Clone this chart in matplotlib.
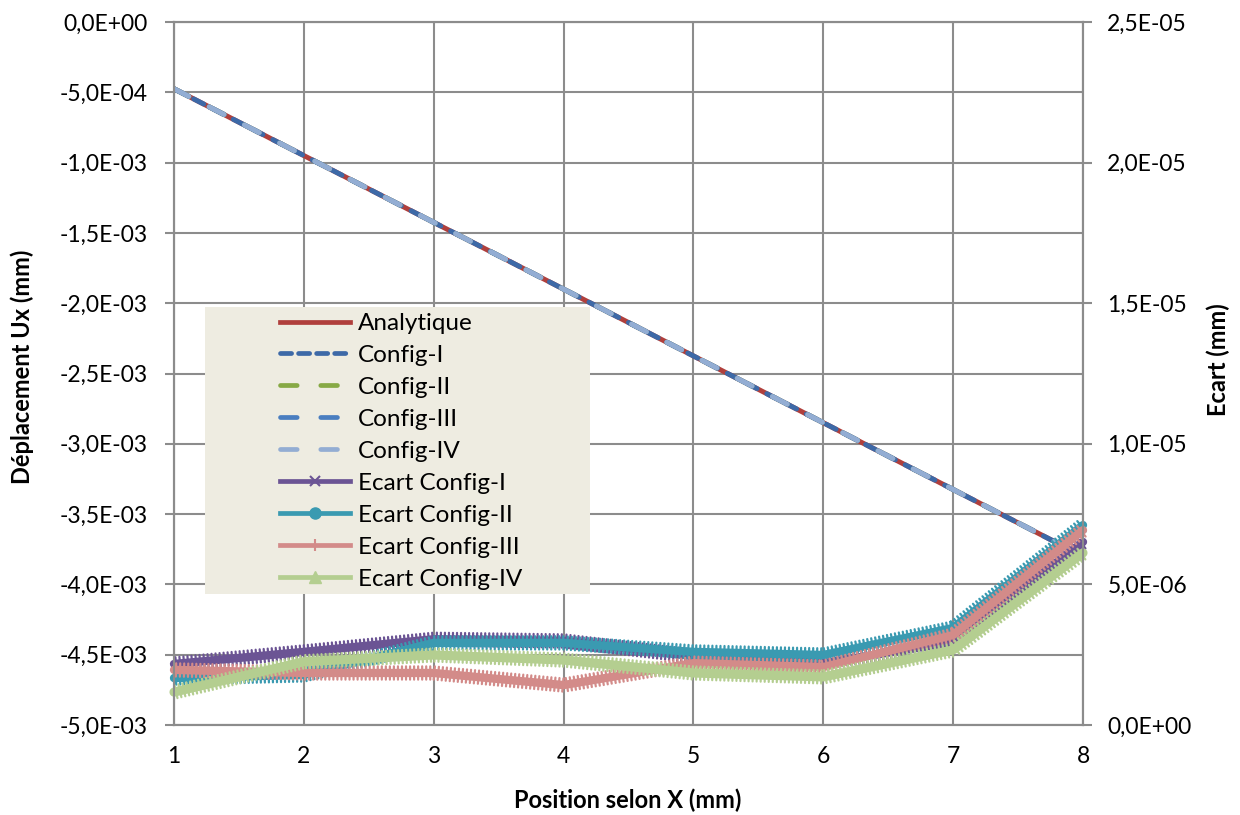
import matplotlib
matplotlib.use("Agg")
import matplotlib.pyplot as plt
import matplotlib.patheffects as pe
from matplotlib.lines import Line2D
from matplotlib.patches import Rectangle
from matplotlib.ticker import FixedLocator, FuncFormatter
import numpy as np

plt.rcParams['font.family'] = ['Lato', 'DejaVu Sans']
plt.rcParams['lines.scale_dashes'] = False

# ---------------- data ----------------
x = [1, 2, 3, 4, 5, 6, 7, 8]
analytique = [-4.75e-4, -9.5e-4, -1.425e-3, -1.9e-3, -2.375e-3, -2.85e-3, -3.325e-3, -3.8e-3]
config_I = [-4.75e-4, -9.5e-4, -1.425e-3, -1.9e-3, -2.375e-3, -2.85e-3, -3.325e-3, -3.8e-3]
config_II = [-4.75e-4, -9.5e-4, -1.425e-3, -1.9e-3, -2.375e-3, -2.85e-3, -3.325e-3, -3.8e-3]
config_III = [-4.75e-4, -9.5e-4, -1.425e-3, -1.9e-3, -2.375e-3, -2.85e-3, -3.325e-3, -3.8e-3]
config_IV = [-4.75e-4, -9.5e-4, -1.425e-3, -1.9e-3, -2.375e-3, -2.85e-3, -3.325e-3, -3.8e-3]

ecart_I = [2.17e-6, 2.60e-6, 3.05e-6, 2.99e-6, 2.45e-6, 2.20e-6, 2.95e-6, 6.51e-6]
ecart_II = [1.67e-6, 1.78e-6, 2.92e-6, 2.92e-6, 2.60e-6, 2.49e-6, 3.45e-6, 7.11e-6]
ecart_III = [1.96e-6, 1.85e-6, 1.85e-6, 1.42e-6, 2.20e-6, 2.06e-6, 3.20e-6, 6.93e-6]
ecart_IV = [1.17e-6, 2.25e-6, 2.49e-6, 2.31e-6, 1.85e-6, 1.71e-6, 2.67e-6, 6.12e-6]

labels_main = ['Analytique', 'Config-I', 'Config-II', 'Config-III', 'Config-IV']
labels_ecart = ['Ecart Config-I', 'Ecart Config-II', 'Ecart Config-III', 'Ecart Config-IV']

# ---------------- styles ----------------
c_ana = '#B03F3C'
c_cfg = ['#3D69A7', '#87A945', '#4A7EC0', '#93ADD3']
c_ec = ['#6B5494', '#3A9AB1', '#D38B89', '#B4CE90']
grid_c = '#8C8C8C'

fig = plt.figure(figsize=(12.4, 8.15), dpi=100)
left, right = 174 / 1240, 1083 / 1240
bottom, top = 1 - 725 / 815, 1 - 22 / 815
ax = fig.add_axes([left, bottom, right - left, top - bottom])
ax2 = ax.twinx()

lw = 3.6
ax.plot(x, analytique, color=c_ana, lw=lw, solid_capstyle='round', label=labels_main[0])
ax.plot(x, config_I, color=c_cfg[0], lw=lw, dashes=(8, 8), dash_capstyle='round', label=labels_main[1])
ax.plot(x, config_II, color=c_cfg[1], lw=lw, dashes=(12, 16.5), dash_capstyle='round', label=labels_main[2])
ax.plot(x, config_III, color=c_cfg[2], lw=lw, dashes=(12, 16.5), dash_capstyle='round', label=labels_main[3])
ax.plot(x, config_IV, color=c_cfg[3], lw=lw, dashes=(12, 16.5), dash_capstyle='round', label=labels_main[4])

ecarts = [ecart_I, ecart_II, ecart_III, ecart_IV]
for i, ys in enumerate(ecarts):
    c = c_ec[i]
    core = 6.0 if i != 3 else 6.6
    effects = [
        pe.Stroke(linewidth=core, foreground=c),
        pe.TickedStroke(spacing=2.9, angle=90, length=1.65, linewidth=1.6, foreground=c),
        pe.TickedStroke(spacing=2.9, angle=-90, length=1.65, linewidth=1.6, foreground=c),
    ]
    ln, = ax2.plot(x, ys, color=c, lw=core, solid_joinstyle='round', solid_capstyle='round', clip_on=False)
    ln.set_path_effects(effects)

# ---------------- axes ----------------
ax.set_xlim(1, 8)
ax.set_ylim(-5e-3, 0)
ax2.set_ylim(0, 2.5e-5)
ax.xaxis.set_major_locator(FixedLocator(x))
ax.yaxis.set_major_locator(FixedLocator(np.arange(-10, 1) * 5e-4))
ax2.yaxis.set_major_locator(FixedLocator(np.arange(0, 6) * 5e-6))

fmt = FuncFormatter(lambda v, p: ('%.1E' % v).replace('.', ','))
ax.yaxis.set_major_formatter(fmt)
ax2.yaxis.set_major_formatter(fmt)
ax.xaxis.set_major_formatter(FuncFormatter(lambda v, p: '%d' % v))

ax.grid(True, color=grid_c, lw=1.5)
ax.set_axisbelow(True)
for a in (ax, ax2):
    for s in a.spines.values():
        s.set_color(grid_c)
        s.set_linewidth(1.5)
TS = 16.5
ax.tick_params(axis='y', length=6.5, width=1.5, color=grid_c, labelsize=TS, pad=12.5)
ax2.tick_params(axis='y', length=6.5, width=1.5, color=grid_c, labelsize=TS, pad=11)
ax.tick_params(axis='x', length=0, labelsize=TS, pad=15)

LS = 17
fig.text(22 / 1240, 1 - 367 / 815, 'Déplacement Ux (mm)', rotation=90, ha='center', va='center',
         fontsize=LS, fontweight='bold')
fig.text(1218 / 1240, 1 - 360 / 815, 'Ecart (mm)', rotation=90, ha='center', va='center',
         fontsize=LS, fontweight='bold')
fig.text(628 / 1240, 1 - 800 / 815, 'Position selon X (mm)', ha='center', va='center',
         fontsize=LS, fontweight='bold')

# ---------------- legend ----------------
W, H = 909, 703
lx0, lx1, ly0, ly1 = 205, 590, 307, 594
ax2.add_patch(Rectangle(((lx0 - 174) / W, (725 - ly1) / H), (lx1 - lx0) / W, (ly1 - ly0) / H,
                        transform=ax2.transAxes, facecolor='#EEECE1', edgecolor='none',
                        zorder=4, clip_on=False))
handles = [
    Line2D([], [], color=c_ana, lw=3.4),
    Line2D([], [], color=c_cfg[0], lw=3.4, dashes=(8, 5), dash_capstyle='round'),
    Line2D([], [], color=c_cfg[1], lw=3.4, dashes=(12, 17), dash_capstyle='round'),
    Line2D([], [], color=c_cfg[2], lw=3.4, dashes=(12, 17), dash_capstyle='round'),
    Line2D([], [], color=c_cfg[3], lw=3.4, dashes=(12, 17), dash_capstyle='round'),
    Line2D([], [], color=c_ec[0], lw=3.4, marker='x', markersize=7, markeredgewidth=1.5),
    Line2D([], [], color=c_ec[1], lw=3.4, marker='o', markersize=8),
    Line2D([], [], color=c_ec[2], lw=3.4, marker='|', markersize=9, markeredgewidth=1.5),
    Line2D([], [], color=c_ec[3], lw=3.4, marker='^', markersize=8),
]
FS = 17.5
leg = ax2.legend(handles, labels_main + labels_ecart, loc='upper left',
                 bbox_to_anchor=((280 - 174) / W, (725 - 313) / H),
                 frameon=False, fontsize=FS, handlelength=2.9, handletextpad=0.3,
                 labelspacing=0.45, borderpad=0.0, borderaxespad=0.0, numpoints=1)
leg.set_zorder(5)

fig.savefig('out.png', dpi=100)
